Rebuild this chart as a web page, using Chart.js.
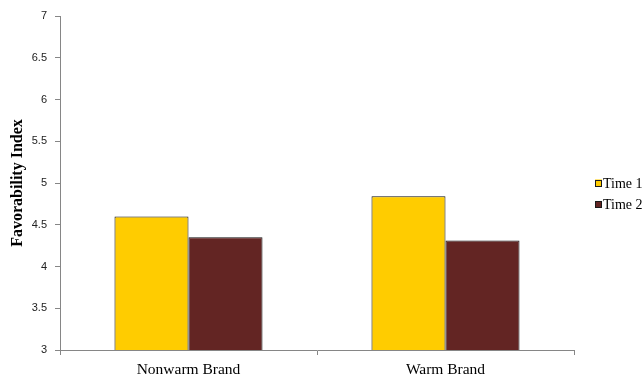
<!DOCTYPE html>
<html>
<head>
<meta charset="utf-8">
<script src="https://cdn.jsdelivr.net/npm/chart.js@4.4.1/dist/chart.umd.min.js"></script>
<style>
  html, body { margin: 0; padding: 0; background: #fff; }
  #wrap { width: 644px; height: 376px; position: relative; }
</style>
</head>
<body>
<div id="wrap"><canvas id="c" width="644" height="376"></canvas></div>
<script>
// Brand categories and favorability means at each time point
const categories = ["Nonwarm Brand", "Warm Brand"];
const time1 = [4.60, 4.84];
const time2 = [4.35, 4.31];
const seriesLabels = ["Time 1", "Time 2"];
const yTicks = [3, 3.5, 4, 4.5, 5, 5.5, 6, 6.5, 7];
const yTickLabels = ["3", "3.5", "4", "4.5", "5", "5.5", "6", "6.5", "7"];

const AXIS = "#868686";
const SERIF = "'Liberation Serif', 'Times New Roman', serif";

// Legend drawn to the right of the plot area, one row per dataset
const sideLegend = {
  id: "sideLegend",
  afterDraw(chart) {
    const ctx = chart.ctx;
    const x0 = chart.chartArea.right + 21;
    const yStart = 183, step = 21.5, box = 7;
    ctx.save();
    ctx.font = "14px " + SERIF;
    ctx.textBaseline = "middle";
    chart.data.datasets.forEach((ds, i) => {
      const y = yStart + i * step;
      ctx.fillStyle = ds.backgroundColor;
      ctx.fillRect(x0, y - box / 2, box, box);
      ctx.strokeStyle = "#1a1a1a";
      ctx.lineWidth = 1;
      ctx.strokeRect(Math.round(x0) + 0.5, Math.round(y - box / 2) + 0.5, box - 1, box - 1);
      ctx.fillStyle = "#000";
      ctx.fillText(ds.label, x0 + box + 1, y + 1);
    });
    ctx.restore();
  }
};

new Chart(document.getElementById("c"), {
  type: "bar",
  data: {
    labels: categories,
    datasets: [
      { label: seriesLabels[0], data: time1, backgroundColor: "#FFCC00", borderColor: "#111", borderWidth: 1 },
      { label: seriesLabels[1], data: time2, backgroundColor: "#632523", borderColor: "#111", borderWidth: 1 }
    ]
  },
  options: {
    responsive: false,
    animation: false,
    layout: { padding: { top: 16, right: 70, left: 0, bottom: 0 } },
    datasets: { bar: { categoryPercentage: 0.576, barPercentage: 1 } },
    plugins: { legend: { display: false }, tooltip: { enabled: false } },
    scales: {
      x: {
        offset: true,
        grid: { offset: true, drawOnChartArea: false, color: AXIS, tickLength: 5 },
        border: { color: AXIS },
        ticks: { color: "#000", padding: 6, font: { family: SERIF, size: 15.5 } },
        afterFit(s) { s.height = 26; }
      },
      y: {
        min: 3, max: 7,
        afterBuildTicks(s) { s.ticks = yTicks.map(v => ({ value: v })); },
        grid: { drawOnChartArea: false, color: AXIS, tickLength: 5 },
        border: { color: AXIS },
        ticks: {
          color: "#222", padding: 8,
          font: { family: "'Liberation Sans', Arial, sans-serif", size: 11 },
          callback(v) { const i = yTicks.indexOf(v); return i >= 0 ? yTickLabels[i] : ""; }
        },
        title: {
          display: true, text: "Favorability Index", color: "#000",
          padding: { top: 8, bottom: 0 },
          font: { family: SERIF, size: 16, weight: "bold" }
        },
        afterFit(s) { s.width = 60; }
      }
    }
  },
  plugins: [sideLegend]
});
</script>
</body>
</html>
